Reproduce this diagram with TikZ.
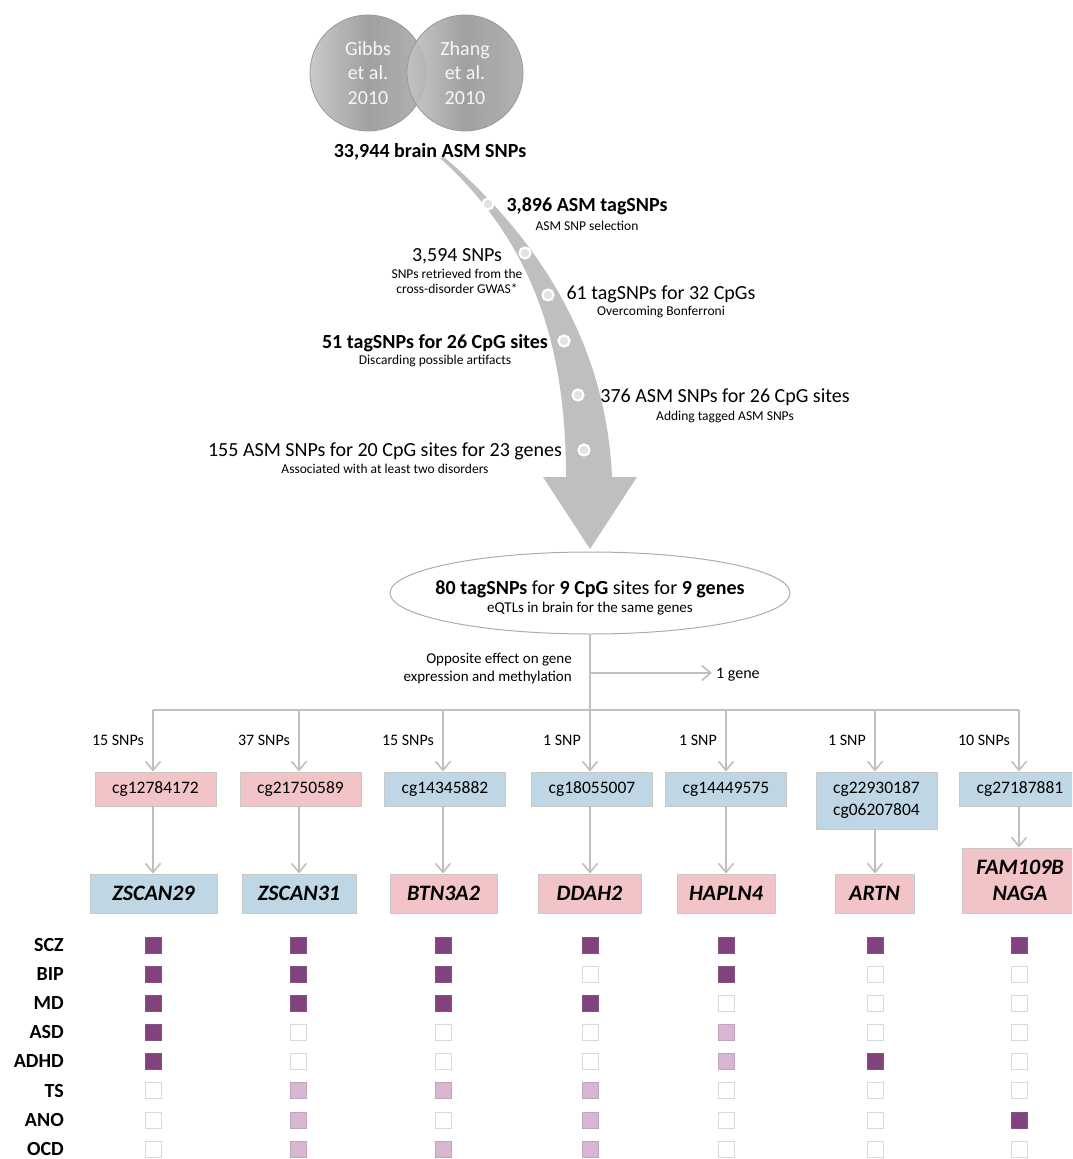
\documentclass[tikz,border=0pt]{standalone}
\usepackage{fontspec}
\setmainfont{Carlito}
\usetikzlibrary{arrows.meta,shapes.geometric}
\definecolor{pinkbox}{RGB}{242,196,200}
\definecolor{bluebox}{RGB}{191,215,228}
\definecolor{lineg}{RGB}{191,191,191}
\definecolor{darkp}{RGB}{130,66,128}
\definecolor{lightp}{RGB}{216,182,212}
\definecolor{boxborder}{RGB}{200,200,200}
\definecolor{vennL}{RGB}{196,196,196}
\definecolor{vennM}{RGB}{150,150,150}
\definecolor{vennR}{RGB}{170,170,170}
\newcommand\myfs[2]{\fontsize{#1}{#2}\selectfont}
\begin{document}
\begin{tikzpicture}[x=1pt,y=-1pt,
  conn/.style={draw=lineg,line width=1.6pt,-{Straight Barb[length=9pt,width=15pt]}},
  branchline/.style={draw=lineg,line width=1.6pt},
  cgbox/.style={draw=boxborder,line width=0.9pt,minimum width=121pt,minimum height=34pt,inner sep=2pt,font=\myfs{17.5}{22},align=center},
  genebox/.style={draw=boxborder,line width=0.9pt,minimum height=39pt,inner sep=2pt,font=\myfs{22}{26}\bfseries\itshape,align=center},
  mainlab/.style={inner sep=0pt,font=\myfs{20}{24}},
  subtxt/.style={inner sep=0pt,font=\myfs{13.5}{15},align=center},
  snplab/.style={inner sep=0pt,anchor=east,font=\myfs{16}{19}},
  dislab/.style={inner sep=0pt,anchor=east,font=\myfs{20}{22}\bfseries},
  sqbox/.style={minimum size=16pt,inner sep=0pt,line width=0.8pt},
  waydot/.style={circle,fill=gray!22,draw=white,line width=2.2pt,minimum size=11pt,inner sep=0pt},
  venn/.style={circle,minimum size=116pt,inner sep=0pt,left color=vennL,right color=vennR,middle color=vennM,fill opacity=0.9,text opacity=1,draw=gray!80,line width=0.8pt,text=white!94!gray,font=\myfs{20}{24.5},align=center}
]
\useasboundingbox (0,0) rectangle (1072,1159);
\clip (0,0) rectangle (1072,1159);

% Venn circles
\node[venn] (gibbs) at (368,73) {Gibbs\\et al.\\2010};
\node[venn] (zhang) at (465,73) {Zhang\\et al.\\2010};
\node[inner sep=0pt,font=\myfs{20}{24}\bfseries] (total) at (430,152) {33,944 brain ASM SNPs};

% big curved arrow
\fill[lineg] (440,158) .. controls (530,240) and (566,340) .. (566,477) -- (543,477) -- (590,549) -- (637,477) -- (612,477) .. controls (606,340) and (535,235) .. (444,157) -- cycle;

\node[waydot] (d1) at (488,204) {};
\node[waydot] (d2) at (525,253) {};
\node[waydot] (d3) at (548,295) {};
\node[waydot] (d4) at (564,341) {};
\node[waydot] (d5) at (578,395) {};
\node[waydot] (d6) at (584,450) {};

% step labels
\node[mainlab,font=\myfs{20}{24}\bfseries] (m1) at (587,206) {3,896 ASM tagSNPs};
\node[subtxt] (s1) at (587,226) {ASM SNP selection};
\node[mainlab] (m2) at (457,256) {3,594 SNPs};
\node[subtxt] (s2) at (457,281.5) {SNPs retrieved from the\\cross-disorder GWAS*};
\node[mainlab] (m3) at (661,294) {61 tagSNPs for 32 CpGs};
\node[subtxt] (s3) at (661,312) {Overcoming Bonferroni};
\node[mainlab,font=\myfs{20}{24}\bfseries] (m4) at (435,343) {51 tagSNPs for 26 CpG sites};
\node[subtxt] (s4) at (435,361) {Discarding possible artifacts};
\node[mainlab] (m5) at (725,397) {376 ASM SNPs for 26 CpG sites};
\node[subtxt] (s5) at (725,417) {Adding tagged ASM SNPs};
\node[mainlab] (m6) at (385,451) {155 ASM SNPs for 20 CpG sites for 23 genes};
\node[subtxt] (s6) at (385,469) {Associated with at least two disorders};

% ellipse
\node[ellipse,draw=gray!65,line width=1pt,fill=white,minimum width=400pt,minimum height=82pt] (ell) at (590,593) {};
\node[mainlab] (et) at (590,589) {\textbf{80 tagSNPs} for \textbf{9 CpG} sites for \textbf{9 genes}};
\node[inner sep=0pt,font=\myfs{15}{16}] (es) at (590,609) {eQTLs in brain for the same genes};

% branch
\coordinate (hub) at (590,710);
\coordinate (side) at (590,673);
\draw[branchline] (ell.south) -- (hub);
\node[inner sep=0pt,anchor=west,font=\myfs{16}{19}] (onegene) at (716,675) {1 gene};
\draw[conn] (side) -- ([xshift=-4pt]onegene.west |- side);
\node[inner sep=0pt,anchor=east,align=right,font=\myfs{15}{18}] (opp) at (572,669) {Opposite effect on gene\\expression and methylation};

\foreach \i/\x in {1/153,2/299,3/443,4/590,5/726,6/875,7/1019}
  \coordinate (top\i) at (\x,710);
\draw[branchline] (top1) -- (top7);

% cg boxes
\node[cgbox,fill=pinkbox] (cg1) at (155.5,789) {cg12784172};
\node[cgbox,fill=pinkbox] (cg2) at (300.5,789) {cg21750589};
\node[cgbox,fill=bluebox] (cg3) at (445,789) {cg14345882};
\node[cgbox,fill=bluebox] (cg4) at (592,789) {cg18055007};
\node[cgbox,fill=bluebox] (cg5) at (726,789) {cg14449575};
\node[cgbox,fill=bluebox,minimum height=57pt] (cg6) at (876.5,800.5) {cg22930187\\cg06207804};
\node[cgbox,fill=bluebox] (cg7) at (1020,789) {cg27187881};

% gene boxes
\node[genebox,fill=bluebox,minimum width=127pt] (g1) at (153.5,893.5) {ZSCAN29};
\node[genebox,fill=bluebox,minimum width=114pt] (g2) at (299,893.5) {ZSCAN31};
\node[genebox,fill=pinkbox,minimum width=107pt] (g3) at (443.5,893.5) {BTN3A2};
\node[genebox,fill=pinkbox,minimum width=103pt] (g4) at (589.5,893.5) {DDAH2};
\node[genebox,fill=pinkbox,minimum width=98pt] (g5) at (726,893.5) {HAPLN4};
\node[genebox,fill=pinkbox,minimum width=79pt] (g6) at (874.5,893.5) {ARTN};
\node[genebox,fill=pinkbox,minimum width=116pt,minimum height=65pt] (g7) at (1020,880.5) {FAM109B\\NAGA};

% SNP labels and arrows
\foreach \i/\t in {1/15 SNPs,2/37 SNPs,3/15 SNPs,4/1 SNP,5/1 SNP,6/1 SNP,7/10 SNPs}{
  \node[snplab] (snp\i) at ([xshift=-9pt,yshift=-30pt]top\i) {\t};
  \draw[conn] (top\i) -- (top\i |- cg\i.north);
  \draw[conn] (top\i |- cg\i.south) -- (top\i |- g\i.north);
}

% disorder labels
\foreach \r/\d in {1/SCZ,2/BIP,3/MD,4/ASD,5/ADHD,6/TS,7/ANO,8/OCD}
  \node[dislab] (dis\r) at (64,{945+(\r-1)*29.1}) {\d};

% grid
\foreach \c/\x/\lst in {
  1/153/{darkp,darkp,darkp,darkp,darkp,white,white,white},
  2/298/{darkp,darkp,darkp,white,white,lightp,lightp,lightp},
  3/443/{darkp,darkp,darkp,white,white,lightp,white,lightp},
  4/590/{darkp,white,darkp,white,white,lightp,lightp,lightp},
  5/726/{darkp,darkp,white,lightp,lightp,white,white,white},
  6/875/{darkp,white,white,white,darkp,white,white,white},
  7/1019/{darkp,white,white,white,white,white,darkp,white}}{
  \foreach \fc [count=\r] in \lst
    \node[sqbox,fill=\fc,draw=\fc!70!gray] (sq-\c-\r) at (\x,{945+(\r-1)*29.15}) {};
}
\end{tikzpicture}
\end{document}
